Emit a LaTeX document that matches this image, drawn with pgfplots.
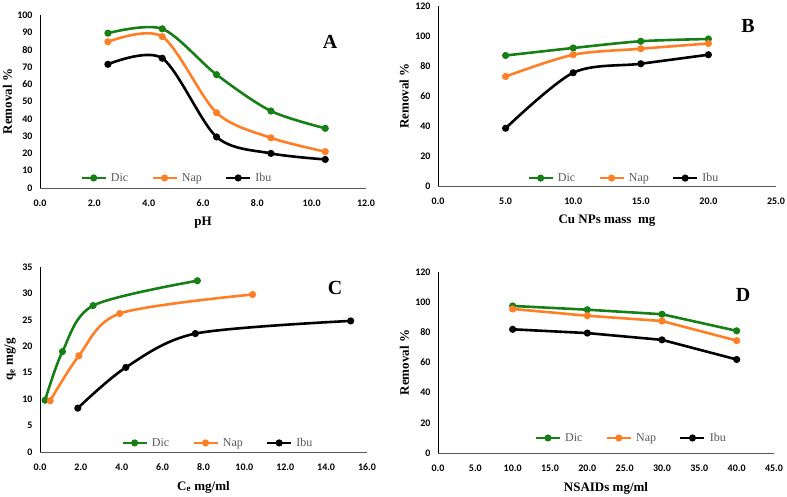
\documentclass[border=0pt]{standalone}
\usepackage{pgfplots}
\pgfplotsset{compat=1.18}
\usepackage{fontspec}
\setmainfont{Liberation Serif}
\newfontfamily\tickfont{Carlito}
\definecolor{cdic}{RGB}{22,128,22}
\definecolor{cnap}{RGB}{255,127,39}
\definecolor{cibu}{RGB}{0,0,0}
\definecolor{legtext}{RGB}{89,89,89}
\definecolor{axgray}{RGB}{90,90,90}
\newcommand\tf{\tickfont\bfseries\fontsize{10}{11}\selectfont}
\newcommand\lf{\bfseries\fontsize{13}{15}\selectfont}

\pgfplotsset{
  panel/.style={
    scale only axis, anchor=south west,
    axis x line*=bottom, axis y line*=left,
    axis line style={-, line width=0.8pt},
    x axis line style={axgray},
    y axis line style={black},
    major tick length=0pt,
    /pgf/number format/assume math mode=true,
    xticklabel style={font=\tf, /pgf/number format/fixed, /pgf/number format/fixed zerofill, /pgf/number format/precision=1, anchor=center, yshift=-15pt},
    yticklabel style={font=\tf, /pgf/number format/fixed, /pgf/number format/1000 sep={}, anchor=east, xshift=-4pt},
    every axis x label/.style={at={(axis description cs:0.5,0)}, anchor=center, yshift=-35pt, font=\lf},
    every axis y label/.style={at={(axis description cs:-0.1,0.5)}, anchor=center, rotate=90, font=\lf},
    legend columns=3,
    legend style={draw=none, fill=none, anchor=center, font=\fontsize{12}{13}\selectfont\color{legtext},
      /tikz/every even column/.append style={column sep=21pt},
      /tikz/every odd column/.append style={column sep=2pt}},
    legend image code/.code={\draw[mark repeat=2,mark phase=2,##1] plot coordinates {(0pt,0pt) (12pt,0pt) (24pt,0pt)};},
    every axis plot/.append style={line width=2.6pt, mark=*, mark size=2.2pt, mark options={line width=0.5pt}},
  },
  sdic/.style={color=cdic, mark options={fill=cdic, draw=cdic}},
  snap/.style={color=cnap, mark options={fill=cnap, draw=cnap}},
  sibu/.style={color=cibu, mark options={fill=cibu, draw=cibu}},
}

\begin{document}
\begin{tikzpicture}
\path[use as bounding box] (0pt,0pt) rectangle (787pt,497pt);

% Panel A
\begin{axis}[panel, at={(40pt,309pt)}, width=326pt, height=173pt,
  xmin=0, xmax=12, ymin=0, ymax=100, xtick={0,2,...,12}, ytick={0,10,...,100},
  xlabel={pH}, ylabel={Removal \%},
  legend style={at={(axis description cs:0.42,0.058)}}]
\addplot[sdic, smooth] coordinates {(2.5,89.5) (4.5,92) (6.5,65.5) (8.5,44.5) (10.5,34.5)};
\addplot[snap, smooth] coordinates {(2.5,84.5) (4.5,87.5) (6.5,43.5) (8.5,29) (10.5,21)};
\addplot[sibu, smooth] coordinates {(2.5,71.5) (4.5,75) (6.5,29.5) (8.5,20) (10.5,16.5)};
\legend{Dic, Nap, Ibu}
\end{axis}

% Panel B
\begin{axis}[panel, at={(438pt,311pt)}, width=338pt, height=180pt,
  xmin=0, xmax=25, ymin=0, ymax=120, xtick={0,5,...,25}, ytick={0,20,...,120},
  xlabel={Cu NPs mass\ \ mg}, ylabel={Removal \%},
  legend style={at={(axis description cs:0.55,0.044)}}]
\addplot[sdic, smooth] coordinates {(5,87) (10,92) (15,96.5) (20,98)};
\addplot[snap, smooth] coordinates {(5,73) (10,87.5) (15,91.5) (20,95)};
\addplot[sibu, smooth] coordinates {(5,38.5) (10,75.5) (15,81.5) (20,87.5)};
\legend{Dic, Nap, Ibu}
\end{axis}

% Panel C
\begin{axis}[panel, at={(40pt,45pt)}, width=327pt, height=185pt,
  xmin=0, xmax=16, ymin=0, ymax=35, xtick={0,2,...,16}, ytick={0,5,...,35},
  xlabel={C\textsubscript{e} mg/ml}, ylabel={q\textsubscript{e} mg/g},
  every axis y label/.append style={at={(axis description cs:-0.092,0.5)}},
  legend style={at={(axis description cs:0.544,0.049)}}]
\addplot[sdic, smooth] coordinates {(0.25,9.8) (1.1,19) (2.6,27.7) (7.7,32.4)};
\addplot[snap, smooth] coordinates {(0.5,9.7) (1.9,18.2) (3.9,26.2) (10.4,29.8)};
\addplot[sibu, smooth] coordinates {(1.85,8.3) (4.2,16) (7.6,22.4) (15.2,24.8)};
\legend{Dic, Nap, Ibu}
\end{axis}

% Panel D
\begin{axis}[panel, at={(438pt,44pt)}, width=336pt, height=181pt,
  xmin=0, xmax=45, ymin=0, ymax=120, xtick={0,5,...,45}, ytick={0,20,...,120},
  xlabel={NSAIDs mg/ml}, ylabel={Removal \%},
  legend style={at={(axis description cs:0.575,0.083)}}]
\addplot[sdic] coordinates {(10,97.5) (20,95) (30,92) (40,81)};
\addplot[snap] coordinates {(10,95.5) (20,91) (30,87.5) (40,74.5)};
\addplot[color=cibu, mark options={fill=red!50!black, draw=black}] coordinates {(10,82) (20,79.5) (30,75) (40,62)};
\legend{Dic, Nap, Ibu}
\end{axis}

% Panel letters
\node[font=\bfseries\fontsize{20}{22}\selectfont] at (330pt,455pt) {A};
\node[font=\bfseries\fontsize{20}{22}\selectfont] at (748pt,471pt) {B};
\node[font=\bfseries\fontsize{20}{22}\selectfont] at (335pt,209pt) {C};
\node[font=\bfseries\fontsize{20}{22}\selectfont] at (743pt,202pt) {D};
\end{tikzpicture}
\end{document}
